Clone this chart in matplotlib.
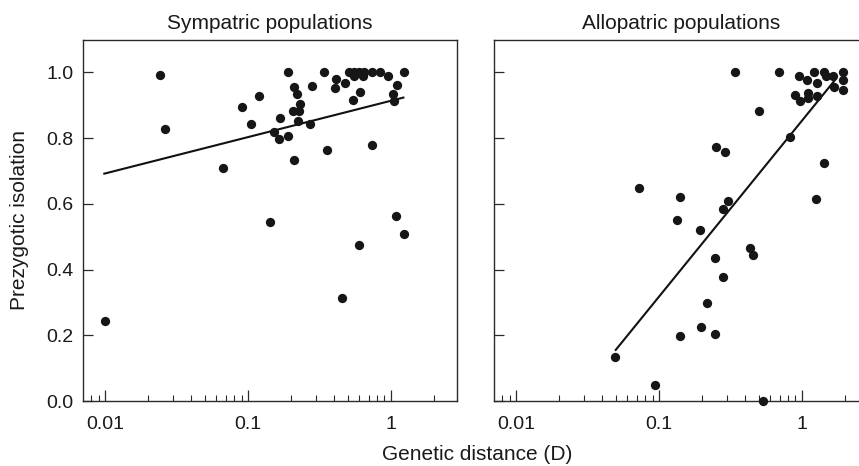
import matplotlib
matplotlib.use("Agg")
import matplotlib.pyplot as plt
from matplotlib.ticker import FixedLocator, LogLocator, NullFormatter, FixedFormatter

plt.rcParams['font.family'] = ['Liberation Sans', 'DejaVu Sans']

# ---- data ----
sym_d = [0.0100, 0.0240, 0.0263, 0.0665, 0.0908, 0.104, 0.120, 0.143, 0.151, 0.165,
         0.168, 0.189, 0.190, 0.205, 0.208, 0.211, 0.219, 0.226, 0.229, 0.224,
         0.273, 0.280, 0.338, 0.359, 0.404, 0.410, 0.457, 0.477, 0.511, 0.554,
         0.601, 0.651, 0.732, 0.838, 0.554, 0.640, 0.948, 0.546, 0.611, 0.733,
         1.096, 1.233, 1.027, 1.050, 1.083, 1.240, 0.597]
sym_iso = [0.242, 0.993, 0.827, 0.708, 0.896, 0.843, 0.927, 0.546, 0.820, 0.797,
           0.862, 1.000, 0.807, 0.883, 0.954, 0.734, 0.933, 0.883, 0.905, 0.853,
           0.843, 0.957, 1.000, 0.765, 0.953, 0.980, 0.314, 0.968, 1.000, 1.000,
           1.000, 1.000, 1.000, 1.000, 0.988, 0.988, 0.988, 0.915, 0.939, 0.778,
           0.962, 1.000, 0.934, 0.912, 0.564, 0.507, 0.475]
sym_fit_d = [0.0097, 1.24]
sym_fit_iso = [0.691, 0.924]

allo_d = [0.0492, 0.0718, 0.0935, 0.133, 0.140, 0.139, 0.192, 0.197, 0.217, 0.247,
          0.247, 0.251, 0.282, 0.282, 0.287, 0.303, 0.337, 0.432, 0.451, 0.499,
          0.530, 0.686, 0.819, 1.253, 1.435,
          0.888, 0.957, 0.963, 1.084, 1.100, 1.100, 1.207, 1.274, 1.274, 1.435,
          1.482, 1.650, 1.668, 1.940, 1.940, 1.940]
allo_iso = [0.135, 0.647, 0.049, 0.550, 0.620, 0.198, 0.520, 0.224, 0.298, 0.435,
            0.205, 0.774, 0.377, 0.585, 0.757, 0.608, 1.000, 0.466, 0.443, 0.881,
            0.000, 1.000, 0.802, 0.615, 0.725,
            0.932, 0.988, 0.914, 0.978, 0.937, 0.922, 1.000, 0.968, 0.927, 1.000,
            0.988, 0.988, 0.955, 1.000, 0.976, 0.947]
allo_fit_d = [0.0492, 1.71]
allo_fit_iso = [0.153, 0.978]

titles = ["Sympatric populations", "Allopatric populations"]
x_ticks = [0.01, 0.1, 1]
x_ticklabels = ["0.01", "0.1", "1"]
y_ticks = [0.0, 0.2, 0.4, 0.6, 0.8, 1.0]
y_ticklabels = ["0.0", "0.2", "0.4", "0.6", "0.8", "1.0"]

# ---- figure ----
W, H = 859, 466
fig = plt.figure(figsize=(W / 100, H / 100), dpi=100)

ax_w = 373.4 / W
ax_b = (H - 401) / H
ax_h = (401 - 39.5) / H
axL = fig.add_axes([83.3 / W, ax_b, ax_w, ax_h])
axR = fig.add_axes([494.3 / W, ax_b, ax_w, ax_h])

dot_color = '#161616'
spine_color = '#2a2a2a'

panels = [(axL, sym_d, sym_iso, sym_fit_d, sym_fit_iso),
          (axR, allo_d, allo_iso, allo_fit_d, allo_fit_iso)]

for i, (ax, d, iso, fd, fi) in enumerate(panels):
    ax.plot(fd, fi, color='#111111', lw=1.5, solid_capstyle='butt', zorder=2)
    ax.plot(d, iso, 'o', ms=6.7, color=dot_color, mec='none', clip_on=False, zorder=3)
    ax.set_xscale('log')
    ax.set_xlim(0.00703, 2.88)
    ax.set_ylim(0, 1.1)
    ax.xaxis.set_major_locator(FixedLocator(x_ticks))
    ax.xaxis.set_major_formatter(FixedFormatter(x_ticklabels))
    ax.xaxis.set_minor_locator(LogLocator(base=10, subs=[2, 3, 4, 5, 6, 7, 8, 9], numticks=20))
    ax.xaxis.set_minor_formatter(NullFormatter())
    ax.yaxis.set_major_locator(FixedLocator(y_ticks))
    ax.yaxis.set_major_formatter(FixedFormatter(y_ticklabels))
    for s in ax.spines.values():
        s.set_color(spine_color)
        s.set_linewidth(1.0)
    ax.tick_params(axis='x', which='major', direction='in', length=8, width=0.9,
                   color=spine_color, labelsize=14, pad=10.8, top=False)
    ax.tick_params(axis='x', which='minor', direction='in', length=4.5, width=0.8,
                   color=spine_color, top=False)
    ax.tick_params(axis='y', which='major', direction='in', length=7.5, width=0.9,
                   color=spine_color, labelsize=14, pad=7.3, right=False)
    if i == 1:
        ax.tick_params(axis='y', labelleft=False)
    ax.set_title(titles[i], fontsize=15, pad=7.3, color='#1a1a1a')
    for lab in ax.get_xticklabels() + ax.get_yticklabels():
        lab.set_color('#1a1a1a')

fig.text(20 / W, (H - 220) / H, "Prezygotic isolation", rotation=90,
         ha='center', va='center', fontsize=15, color='#1a1a1a')
fig.text(477 / W, (H - 460) / H, "Genetic distance (D)",
         ha='center', va='baseline', fontsize=15, color='#1a1a1a')

fig.savefig("out.png", dpi=100)
